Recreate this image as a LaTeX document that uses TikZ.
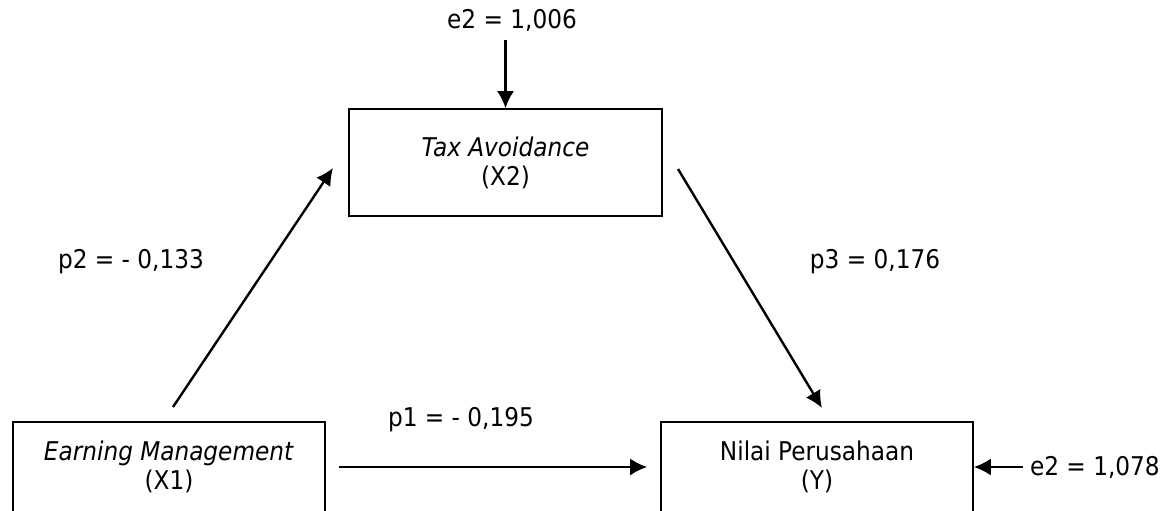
\documentclass[tikz,border=0pt]{standalone}
\usepackage{fontspec}
\setmainfont{DejaVu Sans Condensed}
\usetikzlibrary{arrows.meta,positioning}

\begin{document}
\begin{tikzpicture}[x=0.5pt,y=-0.5pt,
  var/.style={draw,line width=0.8pt,align=center,inner sep=0pt,font=\fontsize{12.9}{14.5}\selectfont},
  path/.style={line width=1.2pt,-{Latex[length=8.5pt,width=8.5pt]}},
  coef/.style={font=\fontsize{12.9}{14.5}\selectfont}]
\clip (0,0) rectangle (1173,510);
% variables
\node[var,minimum width=156.5pt,minimum height=53.5pt] (X2) at (505.5,162.5) {\textit{Tax Avoidance}\\(X2)};
\node[var,minimum width=156pt,minimum height=45pt] (X1) at (169,467) {\textit{Earning Management}\\(X1)};
\node[var,minimum width=156pt,minimum height=45pt] (Y) at (817,467) {Nilai Perusahaan\\(Y)};
% coefficients
\node[coef] (e2top) at (512,20) {e2 = 1,006};
\node[coef] (p2) at (131,262) {p2 = - 0,133};
\node[coef] (p3) at (875,262) {p3 = 0,176};
\node[coef] (p1) at (461,420) {p1 = - 0,195};
\node[coef,anchor=west] (e2y) at (1023,467) {e2 = 1,078};
% paths
\coordinate (e2in) at (505.5,40);
\coordinate (p2s) at (173,407);
\coordinate (p2e) at (333,168);
\coordinate (p3s) at (678,169);
\coordinate (p3e) at (822,408);
\draw[path] (e2in) -- (X2.north);
\draw[path] (p2s) -- (p2e);
\draw[path] (p3s) -- (p3e);
\draw[path] ([xshift=6.5pt]X1.east) -- ([xshift=-6.5pt]Y.west);
\draw[path] (e2y.west) -- (Y.east);
\end{tikzpicture}
\end{document}
